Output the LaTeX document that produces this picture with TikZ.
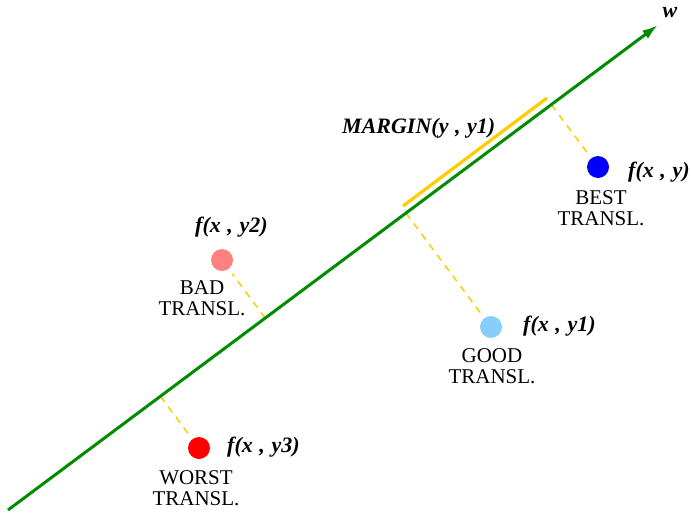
\documentclass[tikz,border=0pt]{standalone}
\usepackage{fontspec}
\setmainfont{Liberation Serif}
\usetikzlibrary{arrows.meta,calc}
\definecolor{wgreen}{RGB}{0,140,0}
\definecolor{gold}{RGB}{255,204,0}
\definecolor{pinkdot}{RGB}{255,128,128}
\definecolor{lightdot}{RGB}{135,206,250}
\newcommand{\fxfont}{\fontsize{22}{22}\selectfont\bfseries\itshape\spaceskip=0.3em\relax}
\begin{document}
\begin{tikzpicture}[x=1pt,y=-1pt,
  dot/.style={circle,inner sep=0pt,minimum size=22pt},
  dashline/.style={gold,line width=1.5pt,dash pattern=on 7pt off 6pt,shorten >=6pt},
  fx/.style={font=\fxfont,inner sep=0pt,anchor=west},
  tr/.style={font=\fontsize{21}{21}\selectfont,align=center,inner sep=0pt,anchor=north}]
\useasboundingbox (0,0) rectangle (691,512);
\clip (0,0) rectangle (691,512);
\coordinate (A) at (8,510);
\coordinate (B) at (658,25);
\coordinate (m1) at (403,206);
\coordinate (m2) at (547,98);
\node[dot,fill=blue] (best) at (598,167) {};
\node[dot,fill=pinkdot] (bad) at (222,260) {};
\node[dot,fill=lightdot] (good) at (491,327) {};
\node[dot,fill=red] (worst) at (199,448) {};
\draw[dashline] ($(A)!(best)!(B)$) -- (best);
\draw[dashline] ($(A)!(bad)!(B)$) -- (bad);
\draw[dashline] ($(A)!(good)!(B)$) -- (good);
\draw[dashline] ($(A)!(worst)!(B)$) -- (worst);
\draw[wgreen,line width=3pt,-{Latex[length=16pt,width=10pt]}] (A) -- (B);
\draw[gold,line width=3.2pt] (m1) -- (m2);
\node[fx,anchor=center] (w) at (670,13) {w};
\node[fx] (lbest) at (628,172) {f(x , y)};
\node[fx] (lmargin) at (342,128) {MARGIN(y , y1)};
\node[fx] (lbad) at (195,227) {f(x , y2)};
\node[fx] (lgood) at (523,326) {f(x , y1)};
\node[fx] (lworst) at (227,447) {f(x , y3)};
\node[tr] (tbest) at (601,190) {BEST\\TRANSL.};
\node[tr] (tbad) at (202,280) {BAD\\TRANSL.};
\node[tr] (tgood) at (492,348) {GOOD\\TRANSL.};
\node[tr] (tworst) at (196,470) {WORST\\TRANSL.};
\end{tikzpicture}
\end{document}
